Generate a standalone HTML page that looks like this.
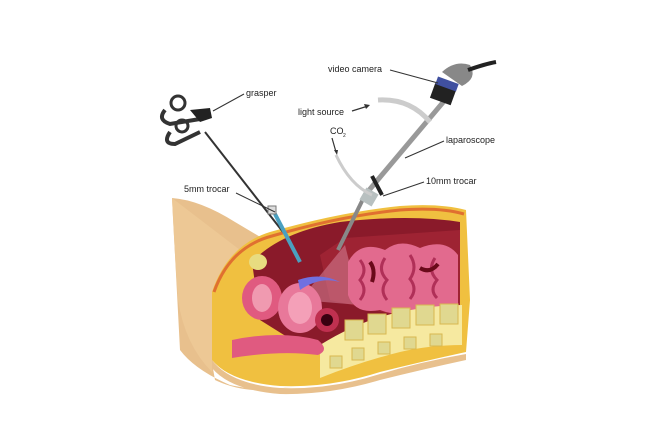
<!DOCTYPE html>
<html><head><style>
body{margin:0;background:#fff;}
svg{display:block}
text{font-family:"Liberation Sans",sans-serif;font-size:9px;fill:#222}
</style></head><body>
<svg width="650" height="439" viewBox="0 0 650 439">
<!-- skin / thigh -->
<path d="M172,198 Q200,200 235,222 L262,238 L230,262 L212,300 L208,340 L215,380 Q240,392 270,390 L300,386 Q260,392 230,385 Q195,370 180,350 Z" fill="#e8c08d"/>
<path d="M172,198 Q175,260 178,300 Q185,345 212,372 L215,330 L220,290 L240,250 Z" fill="#edc895"/>
<!-- cut face outer (yellow/orange rim) -->
<path d="M212,292 Q228,245 270,232 Q340,212 400,206 Q440,203 466,210 L470,300 L466,352 Q420,362 380,372 Q330,388 280,386 Q230,382 212,360 Z" fill="#f0c040"/>
<path d="M214,292 Q230,247 272,236 Q340,216 400,210 Q440,207 464,214" fill="none" stroke="#e07030" stroke-width="3"/>
<!-- skin bottom -->
<path d="M212,360 Q230,384 280,388 Q330,390 380,374 Q420,362 466,354 L466,360 Q420,370 380,380 Q330,395 280,394 Q230,390 212,368 Z" fill="#e8c08d"/>
<!-- cavity -->
<path d="M252,262 Q280,232 340,222 Q410,214 460,222 L460,335 Q420,338 380,340 Q330,345 300,345 L260,320 Z" fill="#8a1a2a"/>
<path d="M320,255 L345,238 L460,230 L460,330 L330,300 Z" fill="#a62838" opacity="0.7"/>
<!-- light cone -->
<path d="M345,245 L300,300 L360,305 Z" fill="#d07a90" opacity="0.6"/>
<!-- bowels -->
<path d="M348,262 Q360,240 385,250 Q400,238 420,248 Q445,238 458,255 L458,305 Q440,315 420,308 Q400,318 380,310 Q355,315 348,295 Z" fill="#e26a8e"/>
<path d="M360,260 q8,10 0,20 q8,10 0,20 M385,258 q-8,12 2,22 q-8,10 0,20 M410,255 q8,12 0,24 q8,10 0,20 M435,258 q-8,12 2,22 q-8,10 0,18" fill="none" stroke="#b03058" stroke-width="3"/>
<path d="M370,262 q6,8 2,20 M420,268 q10,6 18,-4" stroke="#6a0a1a" stroke-width="4" fill="none"/>
<!-- spine -->
<path d="M320,345 Q360,320 400,312 Q435,305 462,305 L462,345 Q430,345 400,352 Q360,362 320,378 Z" fill="#f6e9a0"/>
<g fill="#e0d890" stroke="#d8b850" stroke-width="1">
<rect x="345" y="320" width="18" height="20"/><rect x="368" y="314" width="18" height="20"/><rect x="392" y="308" width="18" height="20"/><rect x="416" y="305" width="18" height="20"/><rect x="440" y="304" width="18" height="20"/>
<rect x="330" y="356" width="12" height="12"/><rect x="352" y="348" width="12" height="12"/><rect x="378" y="342" width="12" height="12"/><rect x="404" y="337" width="12" height="12"/><rect x="430" y="334" width="12" height="12"/>
</g>
<!-- pelvic organs -->
<ellipse cx="262" cy="298" rx="20" ry="22" fill="#e05a80"/>
<ellipse cx="262" cy="298" rx="10" ry="14" fill="#f09ab0"/>
<ellipse cx="300" cy="308" rx="22" ry="25" fill="#e8789a"/>
<ellipse cx="300" cy="308" rx="12" ry="16" fill="#f4a0b8"/>
<circle cx="327" cy="320" r="12" fill="#c03050"/>
<circle cx="327" cy="320" r="6" fill="#3a0010"/>
<path d="M232,340 Q280,330 318,340 Q330,350 318,355 Q280,350 232,358 Z" fill="#e05a80"/>
<ellipse cx="258" cy="262" rx="9" ry="8" fill="#e8dc80"/>
<path d="M298,280 Q320,272 340,282 Q320,276 300,290 Z" fill="#7070e0"/>
<!-- grasper -->
<line x1="205" y1="132" x2="283" y2="232" stroke="#333" stroke-width="2"/>
<line x1="275" y1="214" x2="300" y2="262" stroke="#4aa0c0" stroke-width="4"/>
<rect x="268" y="206" width="8" height="8" fill="#ddd" stroke="#777"/>
<path d="M165,110 q-8,10 5,14 l30,-5 M170,132 q-8,12 5,12 l25,-12" fill="none" stroke="#333" stroke-width="4"/>
<circle cx="178" cy="103" r="7" fill="none" stroke="#333" stroke-width="3"/>
<circle cx="182" cy="126" r="6" fill="none" stroke="#333" stroke-width="3"/>
<path d="M190,110 L210,108 L212,118 L200,122 Z" fill="#222"/>
<!-- laparoscope -->
<line x1="445" y1="100" x2="365" y2="195" stroke="#999" stroke-width="5"/>
<line x1="365" y1="195" x2="338" y2="250" stroke="#888" stroke-width="4"/>
<rect x="362" y="190" width="14" height="14" fill="#b8c0c0" transform="rotate(30 369 197)"/>
<line x1="372" y1="176" x2="382" y2="195" stroke="#222" stroke-width="4"/>
<path d="M378,100 Q410,98 430,122" fill="none" stroke="#ccc" stroke-width="5"/>
<path d="M336,155 Q350,185 372,195" fill="none" stroke="#ccc" stroke-width="3"/>
<rect x="432" y="86" width="22" height="16" fill="#222" transform="rotate(20 443 94)"/>
<rect x="436" y="80" width="22" height="8" fill="#4050a0" transform="rotate(20 447 84)"/>
<path d="M442,72 Q455,60 470,65 Q478,78 462,86 Z" fill="#888"/>
<path d="M468,70 Q485,64 496,62" stroke="#222" stroke-width="4" fill="none"/>
<!-- labels -->
<text x="246" y="96">grasper</text>
<line x1="244" y1="94" x2="213" y2="111" stroke="#333" stroke-width="1"/>
<text x="184" y="192">5mm trocar</text>
<line x1="236" y1="193" x2="275" y2="212" stroke="#333" stroke-width="1"/>
<text x="328" y="72">video camera</text>
<line x1="390" y1="70" x2="438" y2="83" stroke="#333" stroke-width="1"/>
<text x="298" y="115">light source</text>
<path d="M352,111 L368,106" stroke="#333" stroke-width="1.2"/><path d="M370,105 l-6,-1 l2,5z" fill="#333"/>
<text x="330" y="134">CO</text><text x="343" y="137" style="font-size:5px">2</text>
<line x1="332" y1="138" x2="336" y2="152" stroke="#333" stroke-width="1.2"/><path d="M337,155 l-3,-5 l4,0z" fill="#333"/>
<text x="446" y="143">laparoscope</text>
<line x1="444" y1="141" x2="405" y2="158" stroke="#333" stroke-width="1"/>
<text x="426" y="184">10mm trocar</text>
<line x1="424" y1="182" x2="383" y2="196" stroke="#333" stroke-width="1"/>
</svg>
</body></html>
